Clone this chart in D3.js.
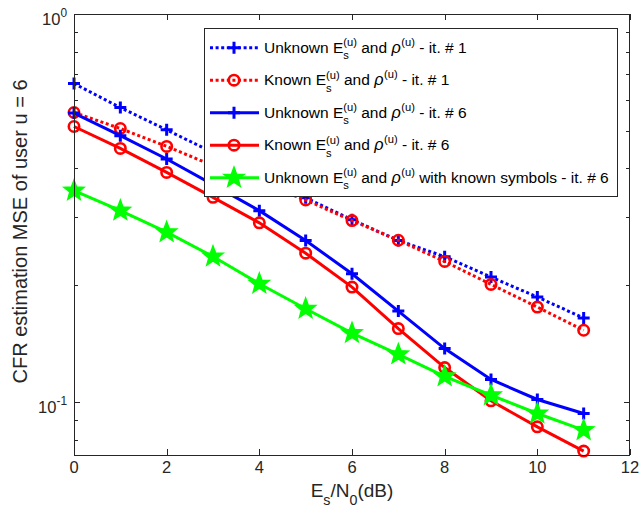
<!DOCTYPE html>
<html><head><meta charset="utf-8">
<script src="https://cdn.jsdelivr.net/npm/d3@7"></script>
<style>
html,body{margin:0;padding:0;background:#fff;}
svg{display:block;}
text{font-family:"Liberation Sans", Arial, Helvetica, sans-serif;}
</style></head>
<body>
<svg id="chart" width="640" height="510"></svg>
<script>
// ---------------- data ----------------
const snr = [0,1,2,3,4,5,6,7,8,9,10,11];
const unknownIt1 = [0.662,0.574,0.503,0.4395,0.3839,0.336,0.295,0.261,0.237,0.210,0.1866,0.1647];
const knownIt1   = [0.5576,0.507,0.456,0.407,0.368,0.3318,0.2937,0.2613,0.2304,0.2011,0.1758,0.1532];
const unknownIt6 = [0.5557,0.4858,0.4231,0.3634,0.3115,0.2609,0.2142,0.1717,0.1374,0.1144,0.1016,0.0935];
const knownIt6   = [0.5131,0.4504,0.3908,0.3371,0.2897,0.242,0.1979,0.1547,0.1228,0.1008,0.0864,0.0748];
const knownSym6  = [0.3507,0.3115,0.2741,0.2373,0.2019,0.1741,0.1507,0.1328,0.1166,0.1042,0.0935,0.0847];
const xTicks = [0,2,4,6,8,10,12];
const yMajorTicks = [0.1,1];
const yMinorTicks = [0.08,0.09,0.2,0.3,0.4,0.5,0.6,0.7,0.8,0.9];
const seriesNames = ["Unknown","Known","Unknown","Known","Unknown"];
const seriesIts = [" - it. # 1"," - it. # 1"," - it. # 6"," - it. # 6"," with known symbols - it. # 6"];

const series = [
  {name:0, values:unknownIt1, color:"#0000ff", dotted:true,  marker:"plus"},
  {name:1, values:knownIt1,   color:"#ff0000", dotted:true,  marker:"circle"},
  {name:2, values:unknownIt6, color:"#0000ff", dotted:false, marker:"plus"},
  {name:3, values:knownIt6,   color:"#ff0000", dotted:false, marker:"circle"},
  {name:4, values:knownSym6,  color:"#00ff00", dotted:false, marker:"star"}
];

// ---------------- layout ----------------
const L = 74, R = 630, T = 14, B = 455;
const svg = d3.select("#chart");
const x = d3.scaleLinear().domain([0,12]).range([L,R]);
const y = d3.scaleLog().domain([0.0731,1]).range([B,T]);
const axisColor = "#262626";
const FS = 16.5;

svg.append("rect").attr("x",L).attr("y",T).attr("width",R-L).attr("height",B-T).attr("fill","#fff");

// ---------- rich text helper ----------
function rich(g, px, py, parts, fs, anchor, color){
  color = color || "#000";
  const grp = g.append("g");
  let cur = 0;
  parts.forEach(p=>{
    if(p.ss){
      const s1 = grp.append("text").attr("x",cur).attr("y",0.45*fs).attr("font-size",0.72*fs).attr("fill",color).text(p.ss[0]);
      const s2 = grp.append("text").attr("x",cur).attr("y",-0.4*fs).attr("font-size",0.72*fs).attr("fill",color).text(p.ss[1]);
      cur += Math.max(s1.node().getComputedTextLength(), s2.node().getComputedTextLength());
    } else if(p.sub){
      const s = grp.append("text").attr("x",cur).attr("y",0.4*fs).attr("font-size",0.75*fs).attr("fill",color).text(p.sub);
      cur += s.node().getComputedTextLength();
    } else if(p.sup){
      const s = grp.append("text").attr("x",cur).attr("y",-0.45*fs).attr("font-size",0.72*fs).attr("fill",color).text(p.sup);
      cur += s.node().getComputedTextLength();
    } else if(p.it){
      const s = grp.append("text").attr("x",cur).attr("y",0).attr("font-size",1.05*fs).attr("font-style","italic")
        .attr("font-family","'Liberation Serif','DejaVu Serif',serif").attr("fill",color).text(p.it);
      cur += s.node().getComputedTextLength() + 0.5;
    } else {
      const s = grp.append("text").attr("x",cur).attr("y",0).attr("font-size",fs).attr("fill",color)
        .style("white-space","pre").text(p.t);
      cur += s.node().getComputedTextLength();
    }
  });
  let ox = px;
  if(anchor==="middle") ox = px - cur/2;
  if(anchor==="end") ox = px - cur;
  grp.attr("transform",`translate(${ox},${py})`);
  return cur;
}

// ---------- axes ticks ----------
const ax = svg.append("g");
xTicks.forEach(t=>{
  const xx = Math.round(x(t))+0.5;
  ax.append("line").attr("x1",xx).attr("x2",xx).attr("y1",B).attr("y2",B-6).attr("stroke",axisColor);
  ax.append("line").attr("x1",xx).attr("x2",xx).attr("y1",T).attr("y2",T+6).attr("stroke",axisColor);
  ax.append("text").attr("x",x(t)).attr("y",B+18).attr("text-anchor","middle").attr("font-size",FS).attr("fill","#262626").text(t);
});
yMajorTicks.forEach(t=>{
  const yy = Math.round(y(t))+0.5;
  ax.append("line").attr("x1",L).attr("x2",L+6).attr("y1",yy).attr("y2",yy).attr("stroke",axisColor);
  ax.append("line").attr("x1",R).attr("x2",R-6).attr("y1",yy).attr("y2",yy).attr("stroke",axisColor);
  rich(ax, L-7, y(t)+10.5, [{t:"10"},{sup: t===1?"0":"-1"}], FS, "end", "#262626");
});
yMinorTicks.forEach(t=>{
  const yy = Math.round(y(t))+0.5;
  ax.append("line").attr("x1",L).attr("x2",L+4).attr("y1",yy).attr("y2",yy).attr("stroke",axisColor);
  ax.append("line").attr("x1",R).attr("x2",R-4).attr("y1",yy).attr("y2",yy).attr("stroke",axisColor);
});

// ---------- series ----------
const line = d3.line().x((d,i)=>x(snr[i])).y(d=>y(d));
const plotG = svg.append("g");

function drawMarker(g, cx, cy, type, color){
  if(type==="plus"){
    g.append("path").attr("d",`M${cx-6},${cy}H${cx+6}M${cx},${cy-6}V${cy+6}`)
      .attr("stroke",color).attr("stroke-width",3).attr("fill","none");
  } else if(type==="circle"){
    g.append("circle").attr("cx",cx).attr("cy",cy).attr("r",5.2)
      .attr("stroke",color).attr("stroke-width",2.6).attr("fill","none");
  } else if(type==="star"){
    const pts=[];
    for(let k=0;k<10;k++){
      const r = k%2===0 ? 10.5 : 4.4;
      const a = -Math.PI/2 + k*Math.PI/5;
      pts.push([cx + r*Math.cos(a), cy + r*Math.sin(a)]);
    }
    g.append("path").attr("d","M"+pts.map(p=>p.join(",")).join("L")+"Z")
      .attr("fill",color).attr("stroke",color).attr("stroke-width",1.5).attr("stroke-linejoin","miter");
  }
}

series.forEach(s=>{
  plotG.append("path").datum(s.values).attr("d",line)
    .attr("fill","none").attr("stroke",s.color).attr("stroke-width",3)
    .attr("stroke-dasharray", s.dotted ? "3,2.6" : null);
  s.values.forEach((v,i)=>drawMarker(plotG, x(snr[i]), y(v), s.marker, s.color));
});

svg.append("rect").attr("x",L+0.5).attr("y",T+0.5).attr("width",R-L-1).attr("height",B-T)
  .attr("fill","none").attr("stroke",axisColor).attr("stroke-width",1);

// ---------- legend ----------
const lg = svg.append("g");
const LX0 = 204, LY0 = 28, LX1 = 617, LY1 = 196;
lg.append("rect").attr("x",LX0+0.5).attr("y",LY0+0.5).attr("width",LX1-LX0).attr("height",LY1-LY0)
  .attr("fill","#fff").attr("stroke",axisColor).attr("stroke-width",1);
const LFS = 15.5;
series.forEach((s,i)=>{
  const ry = 47.7 + i*32.5;
  lg.append("line").attr("x1",210).attr("x2",259).attr("y1",ry).attr("y2",ry)
    .attr("stroke",s.color).attr("stroke-width",3).attr("stroke-dasharray", s.dotted ? "3,2.6" : null);
  drawMarker(lg, 234, ry, s.marker, s.color);
  rich(lg, 264, ry+4.8, [
    {t:seriesNames[s.name]+" E"},{ss:["s","(u)"]},{t:" and "},{it:"\u03C1"},{sup:"(u)"},{t:seriesIts[s.name]}
  ], LFS, "start");
});

// ---------- axis labels ----------
rich(svg, (L+R)/2, 497, [{t:"E"},{sub:"s"},{t:"/N"},{sub:"0"},{t:"(dB)"}], 19, "middle", "#262626");
svg.append("text").attr("transform",`translate(27,${(T+B)/2 - 3}) rotate(-90)`)
  .attr("text-anchor","middle").attr("font-size",20).attr("fill","#262626")
  .text("CFR estimation MSE of user u = 6");
</script>
</body></html>
